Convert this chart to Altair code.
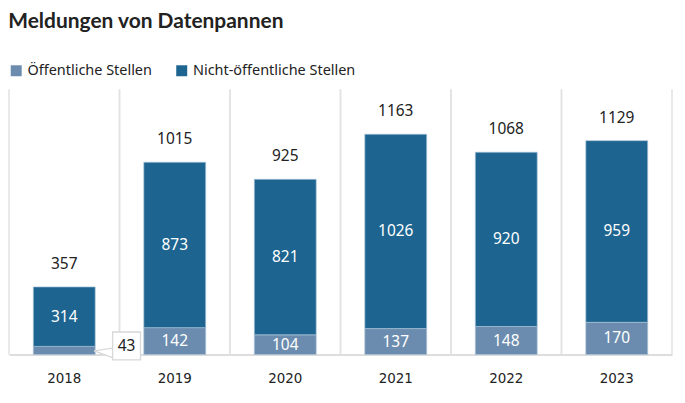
import altair as alt
import pandas as pd

years = ["2018", "2019", "2020", "2021", "2022", "2023"]
public = [43, 142, 104, 137, 148, 170]
nonpublic = [314, 873, 821, 1026, 920, 959]
groups = ["Öffentliche Stellen", "Nicht-öffentliche Stellen"]
colors = ["#6b8cae", "#1d6590"]

rows = []
for y, p, n in zip(years, public, nonpublic):
    rows.append({"year": y, "group": groups[0], "ord": 0, "value": p})
    rows.append({"year": y, "group": groups[1], "ord": 1, "value": n})
df = pd.DataFrame(rows)

FONT = "Noto Sans"
xenc = alt.X("year:N", sort=years, title=None,
             scale=alt.Scale(paddingInner=0, paddingOuter=0))
yscale = alt.Scale(domain=[0, 1400])

base = alt.Chart(df)

grid0 = alt.Chart(pd.DataFrame({"year": years})).mark_rule(
    color="#e2e2e2", strokeWidth=1.5).encode(
    x=alt.X("year:N", sort=years, bandPosition=0, title=None))
grid1 = alt.Chart(pd.DataFrame({"year": years})).mark_rule(
    color="#e2e2e2", strokeWidth=1.5).encode(
    x=alt.X("year:N", sort=years, bandPosition=1, title=None))

bars = base.mark_bar(width={"band": 0.56}, stroke="#a9c2d6", strokeWidth=0.7).encode(
    x=xenc,
    y=alt.Y("value:Q", stack="zero", scale=yscale, axis=None),
    color=alt.Color("group:N", scale=alt.Scale(domain=groups, range=colors),
                    legend=alt.Legend(title=None, orient="top", direction="horizontal",
                                      symbolType="square", symbolSize=121,
                                      symbolStrokeWidth=0,
                                      labelFontSize=14.5, labelFont=FONT,
                                      labelColor="#222", columnPadding=22,
                                      labelLimit=400,
                                      offset=12, padding=0)),
    order=alt.Order("ord:Q"),
)

stacked = base.transform_stack(
    stack="value", groupby=["year"], as_=["v0", "v1"],
    sort=[alt.SortField("ord")]
).transform_calculate(mid="(datum.v0 + datum.v1) / 2")

inner = stacked.transform_filter(
    "!(datum.year == '2018' && datum.ord == 0)"
).mark_text(color="white", fontSize=15.5, font=FONT).encode(
    x=alt.X("year:N", sort=years, title=None),
    y=alt.Y("mid:Q", scale=yscale),
    text="value:Q",
)

callout_src = stacked.transform_filter("datum.year == '2018' && datum.ord == 0")
wedge = callout_src.mark_point(
    shape="M -1 0.05 L 1.3 -0.3 L 1.3 0.9 Z", size=400, filled=True,
    fill="white", stroke="#d8d8d8", strokeWidth=1.3, opacity=1,
    xOffset=40, yOffset=0).encode(
    x=alt.X("year:N", sort=years, title=None), y=alt.Y("mid:Q", scale=yscale))
box = callout_src.mark_square(
    size=784, fill="white", stroke="#d8d8d8", strokeWidth=1.3, opacity=1,
    xOffset=62.5, yOffset=-4.5).encode(
    x=alt.X("year:N", sort=years, title=None), y=alt.Y("mid:Q", scale=yscale))
box_text = callout_src.mark_text(
    color="#222", fontSize=15.5, font=FONT, xOffset=62.5, yOffset=-4.5).encode(
    x=alt.X("year:N", sort=years, title=None), y=alt.Y("mid:Q", scale=yscale),
    text="value:Q")

totals = base.transform_aggregate(
    total="sum(value)", groupby=["year"]
).mark_text(color="#222", fontSize=15.5, font=FONT, dy=-23).encode(
    x=alt.X("year:N", sort=years, title=None),
    y=alt.Y("total:Q", scale=yscale),
    text="total:Q",
)

chart = alt.layer(grid0, grid1, bars, inner, totals, wedge, box, box_text).properties(
    width=665, height=266,
    padding={"left": 0, "top": 2, "right": 4, "bottom": 4},
    title=alt.TitleParams("Meldungen von Datenpannen", anchor="start",
                          fontSize=21, font="Lato", fontWeight="bold",
                          color="#222", offset=32),
).configure_view(stroke=None).configure_axisX(
    labelAngle=0, labelFontSize=13.5, labelFont="DejaVu Sans",
    labelColor="#222", labelPadding=17, ticks=False,
    domainColor="#dddddd", domainWidth=2, grid=False)

chart.save("out.html", embed_options={"renderer": "svg", "actions": False})
